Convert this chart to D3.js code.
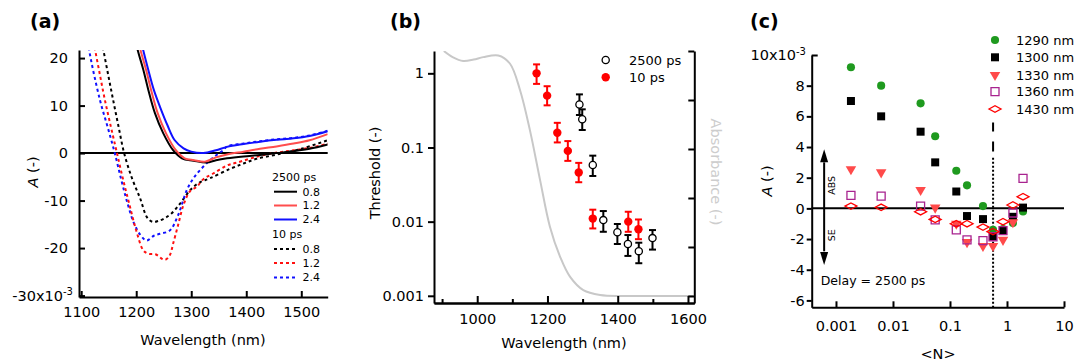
<!DOCTYPE html>
<html>
<head>
<meta charset="utf-8">
<script src="https://cdn.jsdelivr.net/npm/d3@7"></script>
<style>
body{margin:0;background:#fff;}
svg{display:block;font-family:"DejaVu Sans",sans-serif;}
</style>
</head>
<body>
<script>
///////////////////////////
// data, panel (a) : transient spectra, A in units of 1e-3
///////////////////////////
var fluences = ["0.8", "1.2", "2.4"];

var wlSolid08 = [1195, 1202, 1213, 1222, 1234, 1249, 1267, 1283, 1304, 1328, 1345, 1365, 1395, 1425, 1455, 1486, 1515, 1548];
var aSolid08  = [26, 22, 17.5, 13.3, 8.4, 4.2, 0.6, -1.1, -1.6, -2.0, -1.5, -1.1, -0.7, -0.4, 0, 0.4, 0.9, 1.8];
var wlSolid12 = [1199, 1207, 1218, 1227, 1239, 1254, 1272, 1288, 1305, 1325, 1345, 1365, 1395, 1425, 1455, 1486, 1515, 1548];
var aSolid12  = [26, 22, 17.5, 13.3, 8.4, 4.2, 0.6, -1.1, -1.5, -1.8, -0.9, -0.3, 0.3, 0.9, 1.4, 2.0, 2.7, 4.0];
var wlSolid24 = [1204, 1212, 1222, 1232, 1243, 1257, 1270, 1286, 1300, 1322, 1345, 1365, 1395, 1425, 1455, 1486, 1515, 1548];
var aSolid24  = [26, 22, 17.5, 13.3, 9.8, 5.8, 2.7, 1.0, 0.3, 0.0, 0.6, 1.3, 1.9, 2.4, 2.8, 3.1, 3.6, 4.6];

var wlDash08 = [1135, 1140, 1149, 1158, 1168, 1178, 1192, 1207, 1220, 1230, 1240, 1252, 1265, 1280, 1298, 1315, 1334, 1371, 1395, 1419, 1456, 1500, 1548];
var aDash08  = [26, 22, 16.5, 11.2, 5.5, 0, -5.2, -9.5, -13.6, -14.5, -14.3, -13.7, -12.6, -10.6, -7.8, -6.2, -5.3, -3.3, -2.2, -1.2, -0.3, 0.9, 2.7];
var wlDash12 = [1120, 1125, 1134, 1143, 1154, 1165, 1176, 1188, 1200, 1213, 1222, 1235, 1252, 1261, 1267, 1276, 1286, 1298, 1310, 1322, 1340, 1365, 1383, 1425, 1456, 1486, 1520, 1548];
var aDash12  = [26, 22, 16.5, 11.2, 5.5, 0, -5.5, -11, -16.3, -20.5, -21.2, -21.3, -22.5, -21.5, -19.1, -15.2, -10.9, -8.0, -7.1, -5.5, -4.3, -2.6, -2.0, -0.6, 0.1, 0.6, 1.2, 2.0];
var wlDash24 = [1110, 1114, 1134, 1148, 1161, 1173, 1184, 1196, 1208, 1219, 1232, 1243, 1261, 1276, 1292, 1304, 1316, 1334, 1346, 1358, 1365, 1395, 1425, 1455, 1486, 1515, 1548];
var aDash24  = [26, 22, 11.2, 5.5, 0, -5.7, -10.5, -14.8, -17.3, -18.4, -17.4, -17.0, -16.3, -13.1, -7.8, -5.3, -3.6, -1.5, -0.4, 0.6, 1.4, 2.0, 2.5, 2.9, 3.2, 3.7, 4.7];

///////////////////////////
// data, panel (b) : threshold vs wavelength
///////////////////////////
var wl10   = [1169, 1199, 1228, 1258, 1289, 1329, 1430, 1459];
var thr10  = [1.0, 0.5, 0.158, 0.09, 0.046, 0.011, 0.010, 0.0079];
var lo10   = [0.72, 0.37, 0.117, 0.066, 0.034, 0.0081, 0.0073, 0.0058];
var hi10   = [1.32, 0.67, 0.215, 0.122, 0.062, 0.0145, 0.0136, 0.0107];

var wl2500  = [1291, 1299, 1329, 1359, 1399, 1429, 1460, 1499];
var thr2500 = [0.38, 0.24, 0.058, 0.0105, 0.0072, 0.0050, 0.0040, 0.0060];
var lo2500  = [0.274, 0.172, 0.0413, 0.0073, 0.0050, 0.00345, 0.00275, 0.0042];
var hi2500  = [0.52, 0.327, 0.0776, 0.0139, 0.0093, 0.0066, 0.0052, 0.0077];

var wlAbs  = [905, 930, 960, 990, 1017, 1060, 1093, 1122, 1150, 1179, 1207, 1236, 1264, 1302, 1350, 1415, 1500, 1615];
var absVal = [1.0, 0.975, 0.959, 0.965, 0.975, 0.982, 0.949, 0.84, 0.677, 0.473, 0.283, 0.16, 0.079, 0.024, 0.004, 0, 0, 0];

///////////////////////////
// data, panel (c) : A (1e-3) vs <N>, delay 2500 ps
///////////////////////////
var probeLabels = ["1290 nm", "1300 nm", "1330 nm", "1360 nm", "1430 nm"];
var nVals  = [0.00183, 0.0062, 0.0305, 0.055, 0.129, 0.199, 0.379, 0.568, 0.851, 1.27, 1.91];
var a1290  = [9.2, 8.0, 6.85, 4.7, 2.45, 1.5, 0.15, -1.4, -1.35, -0.95, -0.2];
var a1300  = [7.0, 6.0, 5.0, 3.0, 1.1, -0.5, -0.7, -1.85, -1.45, -0.55, 0.05];
var a1330  = [2.55, 2.35, 1.2, 0.05, -1.0, -2.2, -2.45, -2.45, -2.05, -0.9];
var a1360  = [0.85, 0.8, 0.15, -0.75, -1.4, -2.05, -2.1, -1.85, -1.45, -0.3, 1.95];
var a1430  = [0.15, 0.07, -0.22, -0.72, -1.0, -1.0, -1.22, -1.52, -0.87, 0.22, 0.76];
var nMarker = 0.57;

///////////////////////////
var svg = d3.select("body").append("svg")
	.attr("width", 1079)
	.attr("height", 363);
svg.append("rect").attr("width", 1079).attr("height", 363).attr("fill", "#fff");
var defs = svg.append("defs");

var tickFont = 14.5;

function fmt(d){ return String(d); }

function styleAxis(g){
	g.select(".domain").attr("stroke", "#000").attr("stroke-width", 2);
	g.selectAll(".tick line").attr("stroke", "#000").attr("stroke-width", 2);
	g.selectAll(".tick text").attr("fill", "#000")
		.style("font-size", tickFont + "px")
		.style("font-family", "DejaVu Sans");
}

function pairs(xs, ys){
	return xs.map(function(x, i){ return [x, ys[i]]; });
}

function panelLabel(txt, x){
	svg.append("text").attr("x", x).attr("y", 28)
		.style("font-size", "19px").style("font-weight", "bold")
		.text(txt);
}

///////////////////////////
// panel (a)
///////////////////////////
(function(){
	var xA = d3.scaleLinear().domain([1096, 1548]).range([79, 327.7]);
	var yA = d3.scaleLinear().domain([-30.3, 21.7]).range([297, 50]);

	defs.append("clipPath").attr("id", "clipA").append("rect")
		.attr("x", 79).attr("y", 50).attr("width", 327.7 - 79).attr("height", 297 - 50);

	var g = svg.append("g");

	g.append("line")
		.attr("x1", xA(1096)).attr("x2", xA(1548))
		.attr("y1", yA(0)).attr("y2", yA(0))
		.attr("stroke", "#000").attr("stroke-width", 2);

	var line = d3.line()
		.x(function(d){ return xA(d[0]); })
		.y(function(d){ return yA(d[1]); })
		.curve(d3.curveCatmullRom.alpha(0.5));

	var series = [
		{d: pairs(wlDash08, aDash08), c: "#000", dash: true},
		{d: pairs(wlDash24, aDash24), c: "#1010ff", dash: true},
		{d: pairs(wlDash12, aDash12), c: "#ff1010", dash: true},
		{d: pairs(wlSolid08, aSolid08), c: "#000", dash: false},
		{d: pairs(wlSolid12, aSolid12), c: "#ff4d4d", dash: false},
		{d: pairs(wlSolid24, aSolid24), c: "#1010ff", dash: false}
	];

	g.append("g").attr("clip-path", "url(#clipA)")
		.selectAll("path").data(series).enter().append("path")
			.attr("d", function(s){ return line(s.d); })
			.attr("fill", "none")
			.attr("stroke", function(s){ return s.c; })
			.attr("stroke-width", 2)
			.attr("stroke-dasharray", function(s){ return s.dash ? "3,3" : null; });

	var xAxis = g.append("g").attr("transform", "translate(0,297)")
		.call(d3.axisBottom(xA).tickValues([1100, 1200, 1300, 1400, 1500])
			.tickSize(-6).tickSizeOuter(0).tickPadding(10).tickFormat(fmt));
	styleAxis(xAxis);

	var yAxis = g.append("g").attr("transform", "translate(79,0)")
		.call(d3.axisLeft(yA).tickValues([-30, -20, -10, 0, 10, 20])
			.tickSize(-6).tickSizeOuter(0).tickPadding(11)
			.tickFormat(function(d){ return d === -30 ? "" : fmt(d); }));
	styleAxis(yAxis);

	var t = g.append("text").attr("x", 73).attr("y", yA(-30)).attr("dy", "0.36em")
		.attr("text-anchor", "end").style("font-size", tickFont + "px");
	t.append("tspan").text("-30x10");
	t.append("tspan").attr("dy", "-0.55em").style("font-size", "10px").text("-3");

	g.append("text").attr("x", 203).attr("y", 345).attr("text-anchor", "middle")
		.style("font-size", tickFont + "px").text("Wavelength (nm)");

	var yl = g.append("text").attr("transform", "translate(38,172)rotate(-90)")
		.attr("text-anchor", "middle").style("font-size", tickFont + "px");
	yl.append("tspan").style("font-style", "italic").text("A");
	yl.append("tspan").text(" (-)");

	// legend
	var leg = g.append("g").style("font-size", "11px");
	var rows = [
		{head: "2500 ps", y: 177},
		{lab: "0.8", c: "#000", dash: false, y: 191.7},
		{lab: "1.2", c: "#ff4d4d", dash: false, y: 205.5},
		{lab: "2.4", c: "#1010ff", dash: false, y: 219.5},
		{head: "10 ps", y: 234},
		{lab: "0.8", c: "#000", dash: true, y: 249},
		{lab: "1.2", c: "#ff1010", dash: true, y: 263},
		{lab: "2.4", c: "#1010ff", dash: true, y: 277.5}
	];
	rows.forEach(function(r){
		if (r.head){
			leg.append("text").attr("x", 272).attr("y", r.y).attr("dy", "0.35em").text(r.head);
		} else {
			leg.append("line").attr("x1", 274).attr("x2", 297).attr("y1", r.y).attr("y2", r.y)
				.attr("stroke", r.c).attr("stroke-width", 2)
				.attr("stroke-dasharray", r.dash ? "3,3" : null);
			leg.append("text").attr("x", 302.5).attr("y", r.y).attr("dy", "0.35em").text(r.lab);
		}
	});
})();
panelLabel("(a)", 30);

///////////////////////////
// panel (b)
///////////////////////////
(function(){
	var xB = d3.scaleLinear().domain([877, 1618]).range([434, 694.3]);
	var yB = d3.scaleLog().domain([0.0008, 2.0]).range([303, 51]);
	var yAbs = d3.scaleLinear().domain([-0.0286, 1.0]).range([303, 51]);

	defs.append("clipPath").attr("id", "clipB").append("rect")
		.attr("x", 434).attr("y", 51).attr("width", 694.3 - 434).attr("height", 303 - 51);

	var g = svg.append("g");

	var absLine = d3.line()
		.x(function(d){ return xB(d[0]); })
		.y(function(d){ return yAbs(d[1]); })
		.curve(d3.curveCatmullRom.alpha(0.5));

	g.append("path").attr("clip-path", "url(#clipB)")
		.attr("d", absLine(pairs(wlAbs, absVal)))
		.attr("fill", "none").attr("stroke", "#c8c8c8").attr("stroke-width", 2);

	function errBars(wl, lo, hi, col){
		var e = g.append("g").attr("stroke", col).attr("stroke-width", 2);
		wl.forEach(function(w, i){
			var x = xB(w);
			e.append("line").attr("x1", x).attr("x2", x).attr("y1", yB(lo[i])).attr("y2", yB(hi[i]));
			e.append("line").attr("x1", x - 3.5).attr("x2", x + 3.5).attr("y1", yB(lo[i])).attr("y2", yB(lo[i]));
			e.append("line").attr("x1", x - 3.5).attr("x2", x + 3.5).attr("y1", yB(hi[i])).attr("y2", yB(hi[i]));
		});
	}
	errBars(wl10, lo10, hi10, "#ff0000");
	errBars(wl2500, lo2500, hi2500, "#000");

	g.selectAll(".p10").data(pairs(wl10, thr10)).enter().append("circle")
		.attr("cx", function(d){ return xB(d[0]); })
		.attr("cy", function(d){ return yB(d[1]); })
		.attr("r", 4.2).attr("fill", "#ff0000");

	g.selectAll(".p2500").data(pairs(wl2500, thr2500)).enter().append("circle")
		.attr("cx", function(d){ return xB(d[0]); })
		.attr("cy", function(d){ return yB(d[1]); })
		.attr("r", 3.6).attr("fill", "#fff").attr("stroke", "#000").attr("stroke-width", 1.3);

	// axes
	var ax = g.append("g").attr("transform", "translate(0,303)")
		.call(d3.axisBottom(xB).tickValues([1000, 1200, 1400, 1600])
			.tickSize(-7).tickSizeOuter(0).tickPadding(11).tickFormat(fmt));
	styleAxis(ax);
	var axm = g.append("g").attr("transform", "translate(0,303)")
		.call(d3.axisBottom(xB).tickValues([900, 1100, 1300, 1500])
			.tickSize(-4).tickSizeOuter(0).tickFormat(""));
	styleAxis(axm);

	var ay = g.append("g").attr("transform", "translate(434,0)")
		.call(d3.axisLeft(yB).tickValues([0.001, 0.01, 0.1, 1])
			.tickSize(6).tickSizeOuter(0).tickPadding(4)
			.tickFormat(function(d){ return d >= 1 ? "1" : String(+d.toPrecision(1)); }));
	styleAxis(ay);

	var ar = g.append("g").attr("transform", "translate(694.3,0)")
		.call(d3.axisRight(yAbs).tickValues([0, 0.2, 0.4, 0.6, 0.8, 1.0])
			.tickSize(-6).tickSizeOuter(0).tickFormat(""));
	styleAxis(ar);

	g.append("text").attr("x", 564).attr("y", 348).attr("text-anchor", "middle")
		.style("font-size", tickFont + "px").text("Wavelength (nm)");
	g.append("text").attr("transform", "translate(380,173)rotate(-90)")
		.attr("text-anchor", "middle").style("font-size", tickFont + "px").text("Threshold (-)");
	g.append("text").attr("transform", "translate(711,172)rotate(90)")
		.attr("text-anchor", "middle").style("font-size", tickFont + "px")
		.attr("fill", "#cdcdcd").text("Absorbance (-)");

	// legend
	var leg = g.append("g").style("font-size", "13px");
	leg.append("circle").attr("cx", 605.7).attr("cy", 60).attr("r", 3.6)
		.attr("fill", "#fff").attr("stroke", "#000").attr("stroke-width", 1.3);
	leg.append("text").attr("x", 629).attr("y", 60).attr("dy", "0.35em").text("2500 ps");
	leg.append("circle").attr("cx", 605.7).attr("cy", 77.3).attr("r", 4.2).attr("fill", "#ff0000");
	leg.append("text").attr("x", 629).attr("y", 77.3).attr("dy", "0.35em").text("10 ps");
})();
panelLabel("(b)", 390);

///////////////////////////
// panel (c)
///////////////////////////
(function(){
	var xC = d3.scaleLog().domain([0.000375, 10]).range([811.7, 1064]);
	var yC = d3.scaleLinear().domain([-6.45, 10]).range([307.3, 55]);

	var g = svg.append("g");

	g.append("line")
		.attr("x1", xC(0.000375)).attr("x2", xC(10))
		.attr("y1", yC(0)).attr("y2", yC(0))
		.attr("stroke", "#000").attr("stroke-width", 2);

	// <N> marker line
	g.append("line").attr("x1", xC(nMarker)).attr("x2", xC(nMarker))
		.attr("y1", yC(5.6)).attr("y2", yC(3.6))
		.attr("stroke", "#000").attr("stroke-width", 2).attr("stroke-dasharray", "9,10,10");
	g.append("line").attr("x1", xC(nMarker)).attr("x2", xC(nMarker))
		.attr("y1", yC(3.3)).attr("y2", yC(-6.45))
		.attr("stroke", "#000").attr("stroke-width", 2).attr("stroke-dasharray", "2,2");

	var circ = d3.symbol().type(d3.symbolCircle).size(52);
	var sq = d3.symbol().type(d3.symbolSquare).size(64);
	var tri = d3.symbol().type(d3.symbolTriangle).size(48);
	var diamond = "M-6,0L0,-3.2L6,0L0,3.2Z";

	var markers = [
		{vals: a1290, shape: circ(), fill: "#1f9a1f", stroke: "none", rot: 0},
		{vals: a1300, shape: sq(), fill: "#000", stroke: "none", rot: 0},
		{vals: a1330, shape: tri(), fill: "#ff4a4a", stroke: "none", rot: 180},
		{vals: a1360, shape: sq(), fill: "none", stroke: "#a8238f", rot: 0},
		{vals: a1430, shape: diamond, fill: "none", stroke: "#ff0000", rot: 0}
	];

	markers.forEach(function(m){
		g.append("g").selectAll("path").data(pairs(nVals.slice(0, m.vals.length), m.vals)).enter().append("path")
			.attr("d", m.shape)
			.attr("transform", function(d){
				return "translate(" + xC(d[0]) + "," + yC(d[1]) + ")" + (m.rot ? "rotate(" + m.rot + ")" : "");
			})
			.attr("fill", m.fill).attr("stroke", m.stroke).attr("stroke-width", 1.3);
	});

	// arrows
	var arrowN = 0.00062;
	var ax0 = xC(arrowN);
	g.append("line").attr("x1", ax0).attr("x2", ax0).attr("y1", yC(-0.3)).attr("y2", yC(3.0))
		.attr("stroke", "#000").attr("stroke-width", 2);
	g.append("path").attr("d", "M" + ax0 + "," + yC(3.85) + "l-4,13l8,0z").attr("fill", "#000");
	g.append("line").attr("x1", ax0).attr("x2", ax0).attr("y1", yC(-0.3)).attr("y2", yC(-2.8))
		.attr("stroke", "#000").attr("stroke-width", 2);
	g.append("path").attr("d", "M" + ax0 + "," + yC(-3.7) + "l-4,-13l8,0z").attr("fill", "#000");
	g.append("text").attr("transform", "translate(" + (ax0 + 11) + "," + yC(1.5) + ")rotate(-90)")
		.attr("text-anchor", "middle").style("font-size", "9.5px").text("ABS");
	g.append("text").attr("transform", "translate(" + (ax0 + 11) + "," + yC(-1.75) + ")rotate(-90)")
		.attr("text-anchor", "middle").style("font-size", "9.5px").text("SE");

	g.append("text").attr("x", xC(0.00054)).attr("y", yC(-4.68)).attr("dy", "0.35em")
		.style("font-size", "12.5px").text("Delay = 2500 ps");

	// axes
	var ax = g.append("g").attr("transform", "translate(0,307.3)")
		.call(d3.axisBottom(xC).tickValues([0.001, 0.01, 0.1, 1, 10])
			.tickSize(-6).tickSizeOuter(0).tickPadding(13)
			.tickFormat(function(d){ return d >= 1 ? String(d) : String(+d.toPrecision(1)); }));
	styleAxis(ax);

	var ay = g.append("g").attr("transform", "translate(811.7,0)")
		.call(d3.axisLeft(yC).tickValues([-6, -4, -2, 0, 2, 4, 6, 8, 10])
			.tickSize(5).tickSizeOuter(0).tickPadding(2)
			.tickFormat(function(d){ return d === 10 ? "" : fmt(d); }));
	styleAxis(ay);
	ay.selectAll(".tick").filter(function(d){ return d === 10; }).select("line")
		.attr("x2", 6);

	var t = g.append("text").attr("x", 806).attr("y", yC(10)).attr("dy", "0.36em")
		.attr("text-anchor", "end").style("font-size", tickFont + "px");
	t.append("tspan").text("10x10");
	t.append("tspan").attr("dy", "-0.55em").style("font-size", "10px").text("-3");

	g.append("text").attr("x", 938).attr("y", 359).attr("text-anchor", "middle")
		.style("font-size", tickFont + "px").text("<N>");
	var yl = g.append("text").attr("transform", "translate(772,181)rotate(-90)")
		.attr("text-anchor", "middle").style("font-size", tickFont + "px");
	yl.append("tspan").style("font-style", "italic").text("A");
	yl.append("tspan").text(" (-)");

	// legend
	var legY = [40, 57.3, 75, 91.7, 109];
	var leg = g.append("g").style("font-size", "13px");
	markers.forEach(function(m, i){
		leg.append("path").attr("d", m.shape)
			.attr("transform", "translate(995," + legY[i] + ")" + (m.rot ? "rotate(" + m.rot + ")" : ""))
			.attr("fill", m.fill).attr("stroke", m.stroke).attr("stroke-width", 1.3);
		leg.append("text").attr("x", 1016).attr("y", legY[i]).attr("dy", "0.35em").text(probeLabels[i]);
	});
})();
panelLabel("(c)", 750);
</script>
</body>
</html>
